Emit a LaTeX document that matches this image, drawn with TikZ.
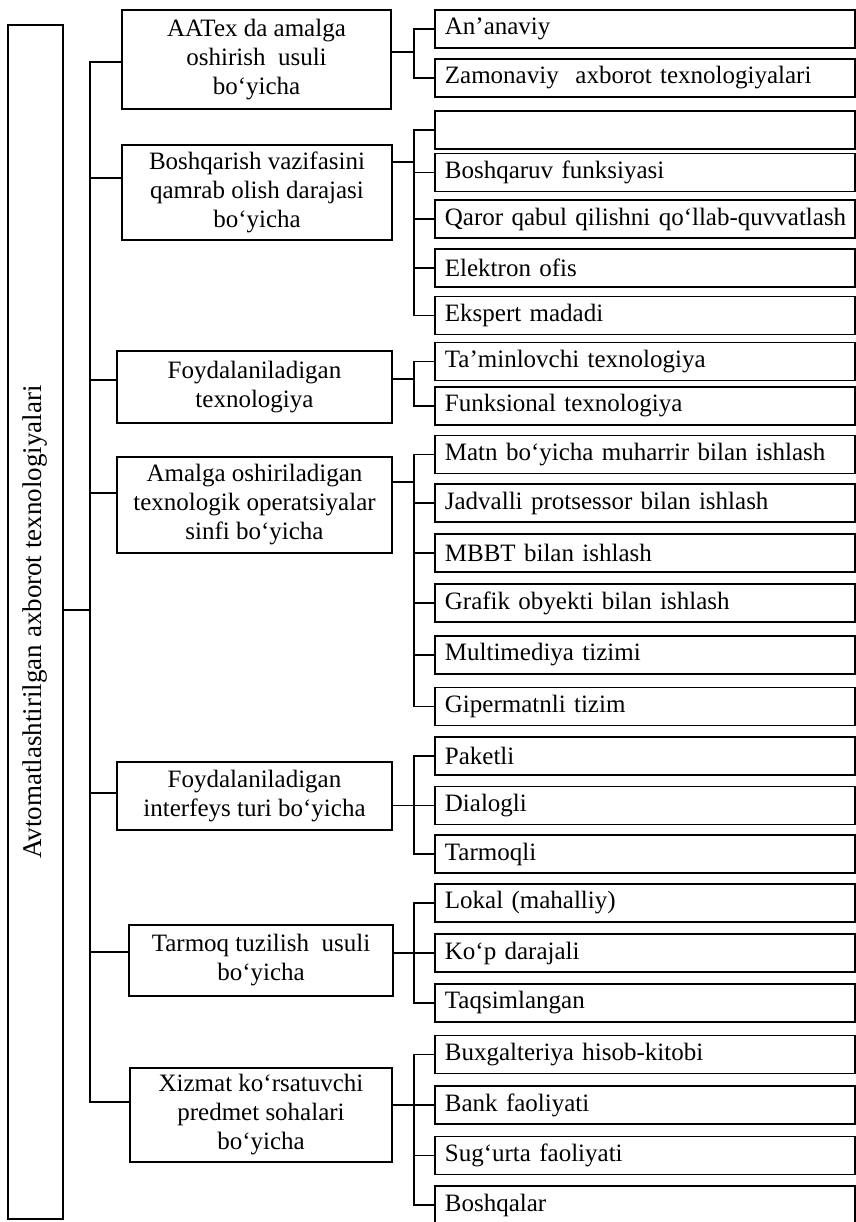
\documentclass[tikz,border=0pt]{standalone}
\usepackage{fontspec}
\setmainfont{Liberation Serif}

\tikzset{
  boxfont/.style={font=\fontsize{12.5}{14.5}\selectfont},
  rootbox/.style={draw, line width=0.9pt, minimum width=27.5pt, minimum height=597pt},
  catbox/.style={draw, line width=0.9pt, align=center, inner sep=1pt, boxfont},
  leafbox/.style={draw, line width=0.9pt, anchor=west, align=left, text width=200pt,
    inner xsep=5pt, inner ysep=0pt, minimum height=19pt, boxfont},
  link/.style={line width=0.9pt, line cap=rect},
}

\begin{document}
\begin{tikzpicture}[x=0.5pt,y=-0.5pt]
	\useasboundingbox (0,0) rectangle (856,1222);
	% root box, text turned upwards
	\node[rootbox, label={[rotate=90,font=\fontsize{13.5}{15}\selectfont]center:Avtomatlashtirilgan axborot texnologiyalari}] (root) at (35.5,622) {};
	% categories in the middle column
	\node[catbox, minimum width=134.5pt, minimum height=49.5pt] (c1) at (256.5,59.5) {AATex da amalga\\oshirish~~usuli\\bo‘yicha};
	\node[catbox, minimum width=135pt, minimum height=47.5pt] (c2) at (257,192.5) {Boshqarish vazifasini\\qamrab olish darajasi\\bo‘yicha};
	\node[catbox, minimum width=137.5pt, minimum height=36pt] (c3) at (254.5,387) {Foydalaniladigan\\texnologiya};
	\node[catbox, minimum width=137.5pt, minimum height=48pt] (c4) at (254.5,505) {Amalga oshiriladigan\\texnologik operatsiyalar\\sinfi bo‘yicha};
	\node[catbox, minimum width=137.5pt, minimum height=34pt] (c5) at (254.5,796) {Foydalaniladigan\\interfeys turi bo‘yicha};
	\node[catbox, minimum width=132pt, minimum height=35.5pt] (c6) at (261,960.5) {Tarmoq tuzilish~~usuli\\bo‘yicha};
	\node[catbox, minimum width=131pt, minimum height=47pt] (c7) at (261,1115) {Xizmat ko‘rsatuvchi\\predmet sohalari\\bo‘yicha};
	% leaves in the right column
	\foreach \n/\y/\t in {a/29/An’anaviy, b/78/Zamonaviy~~axborot texnologiyalari}
		\node[leafbox] (g1\n) at (434,\y) {\t};
	\foreach \n/\y/\t in {a/130/{}, b/172.5/Boshqaruv funksiyasi, c/219/\mbox{Qaror qabul qilishni qo‘llab-quvvatlash},
		d/268/Elektron ofis, e/315.5/Ekspert madadi}
		\node[leafbox] (g2\n) at (434,\y) {\t};
	\foreach \n/\y/\t in {a/361.5/Ta’minlovchi texnologiya, b/406/Funksional texnologiya}
		\node[leafbox] (g3\n) at (434,\y) {\t};
	\foreach \n/\y/\t in {a/454.5/Matn bo‘yicha muharrir bilan ishlash, b/503/Jadvalli protsessor bilan ishlash,
		c/553/MBBT bilan ishlash, d/603/Grafik obyekti bilan ishlash, e/655/Multimediya tizimi, f/706.5/Gipermatnli tizim}
		\node[leafbox] (g4\n) at (434,\y) {\t};
	\foreach \n/\y/\t in {a/756/Paketli, b/805.5/Dialogli, c/854/Tarmoqli}
		\node[leafbox] (g5\n) at (434,\y) {\t};
	\foreach \n/\y/\t in {a/903/Lokal (mahalliy), b/953/Ko‘p darajali, c/1003/Taqsimlangan}
		\node[leafbox] (g6\n) at (434,\y) {\t};
	\foreach \n/\y/\t in {a/1054.5/Buxgalteriya hisob-kitobi, b/1105/Bank faoliyati, c/1155.5/Sug‘urta faoliyati, d/1205/Boshqalar}
		\node[leafbox] (g7\n) at (434,\y) {\t};
	% trunk between root and categories
	\coordinate (t0) at (90,610);
	\foreach \i/\y in {1/62, 2/178, 3/380, 4/493, 5/793, 6/952, 7/1102}
		\coordinate (t\i) at (90,\y);
	\draw[link] (root.east |- t0) -- (t0);
	\draw[link] (t1) -- (t7);
	\foreach \i in {1,...,7}
		\draw[link] (t\i) -- (t\i -| c\i.west);
	% brackets between categories and leaves
	\foreach \i/\y in {1/52, 2/162, 3/379, 4/482, 5/805.5, 6/953, 7/1105}
		\coordinate (j\i) at (414,\y);
	\foreach \i in {1,...,7}
		\draw[link] (c\i.east |- j\i) -- (j\i);
	\foreach \i/\last in {1/b, 2/e, 3/b, 4/f, 5/c, 6/c, 7/d}
		\draw[link] (g\i a.west -| j\i) -- (g\i\last.west -| j\i);
	\foreach \g in {g1a,g1b,g2a,g2b,g2c,g2d,g2e,g3a,g3b,g4a,g4b,g4c,g4d,g4e,g4f,
		g5a,g5b,g5c,g6a,g6b,g6c,g7a,g7b,g7c,g7d}
		\draw[link] (\g.west) -- (\g.west -| j1);
\end{tikzpicture}
\end{document}
